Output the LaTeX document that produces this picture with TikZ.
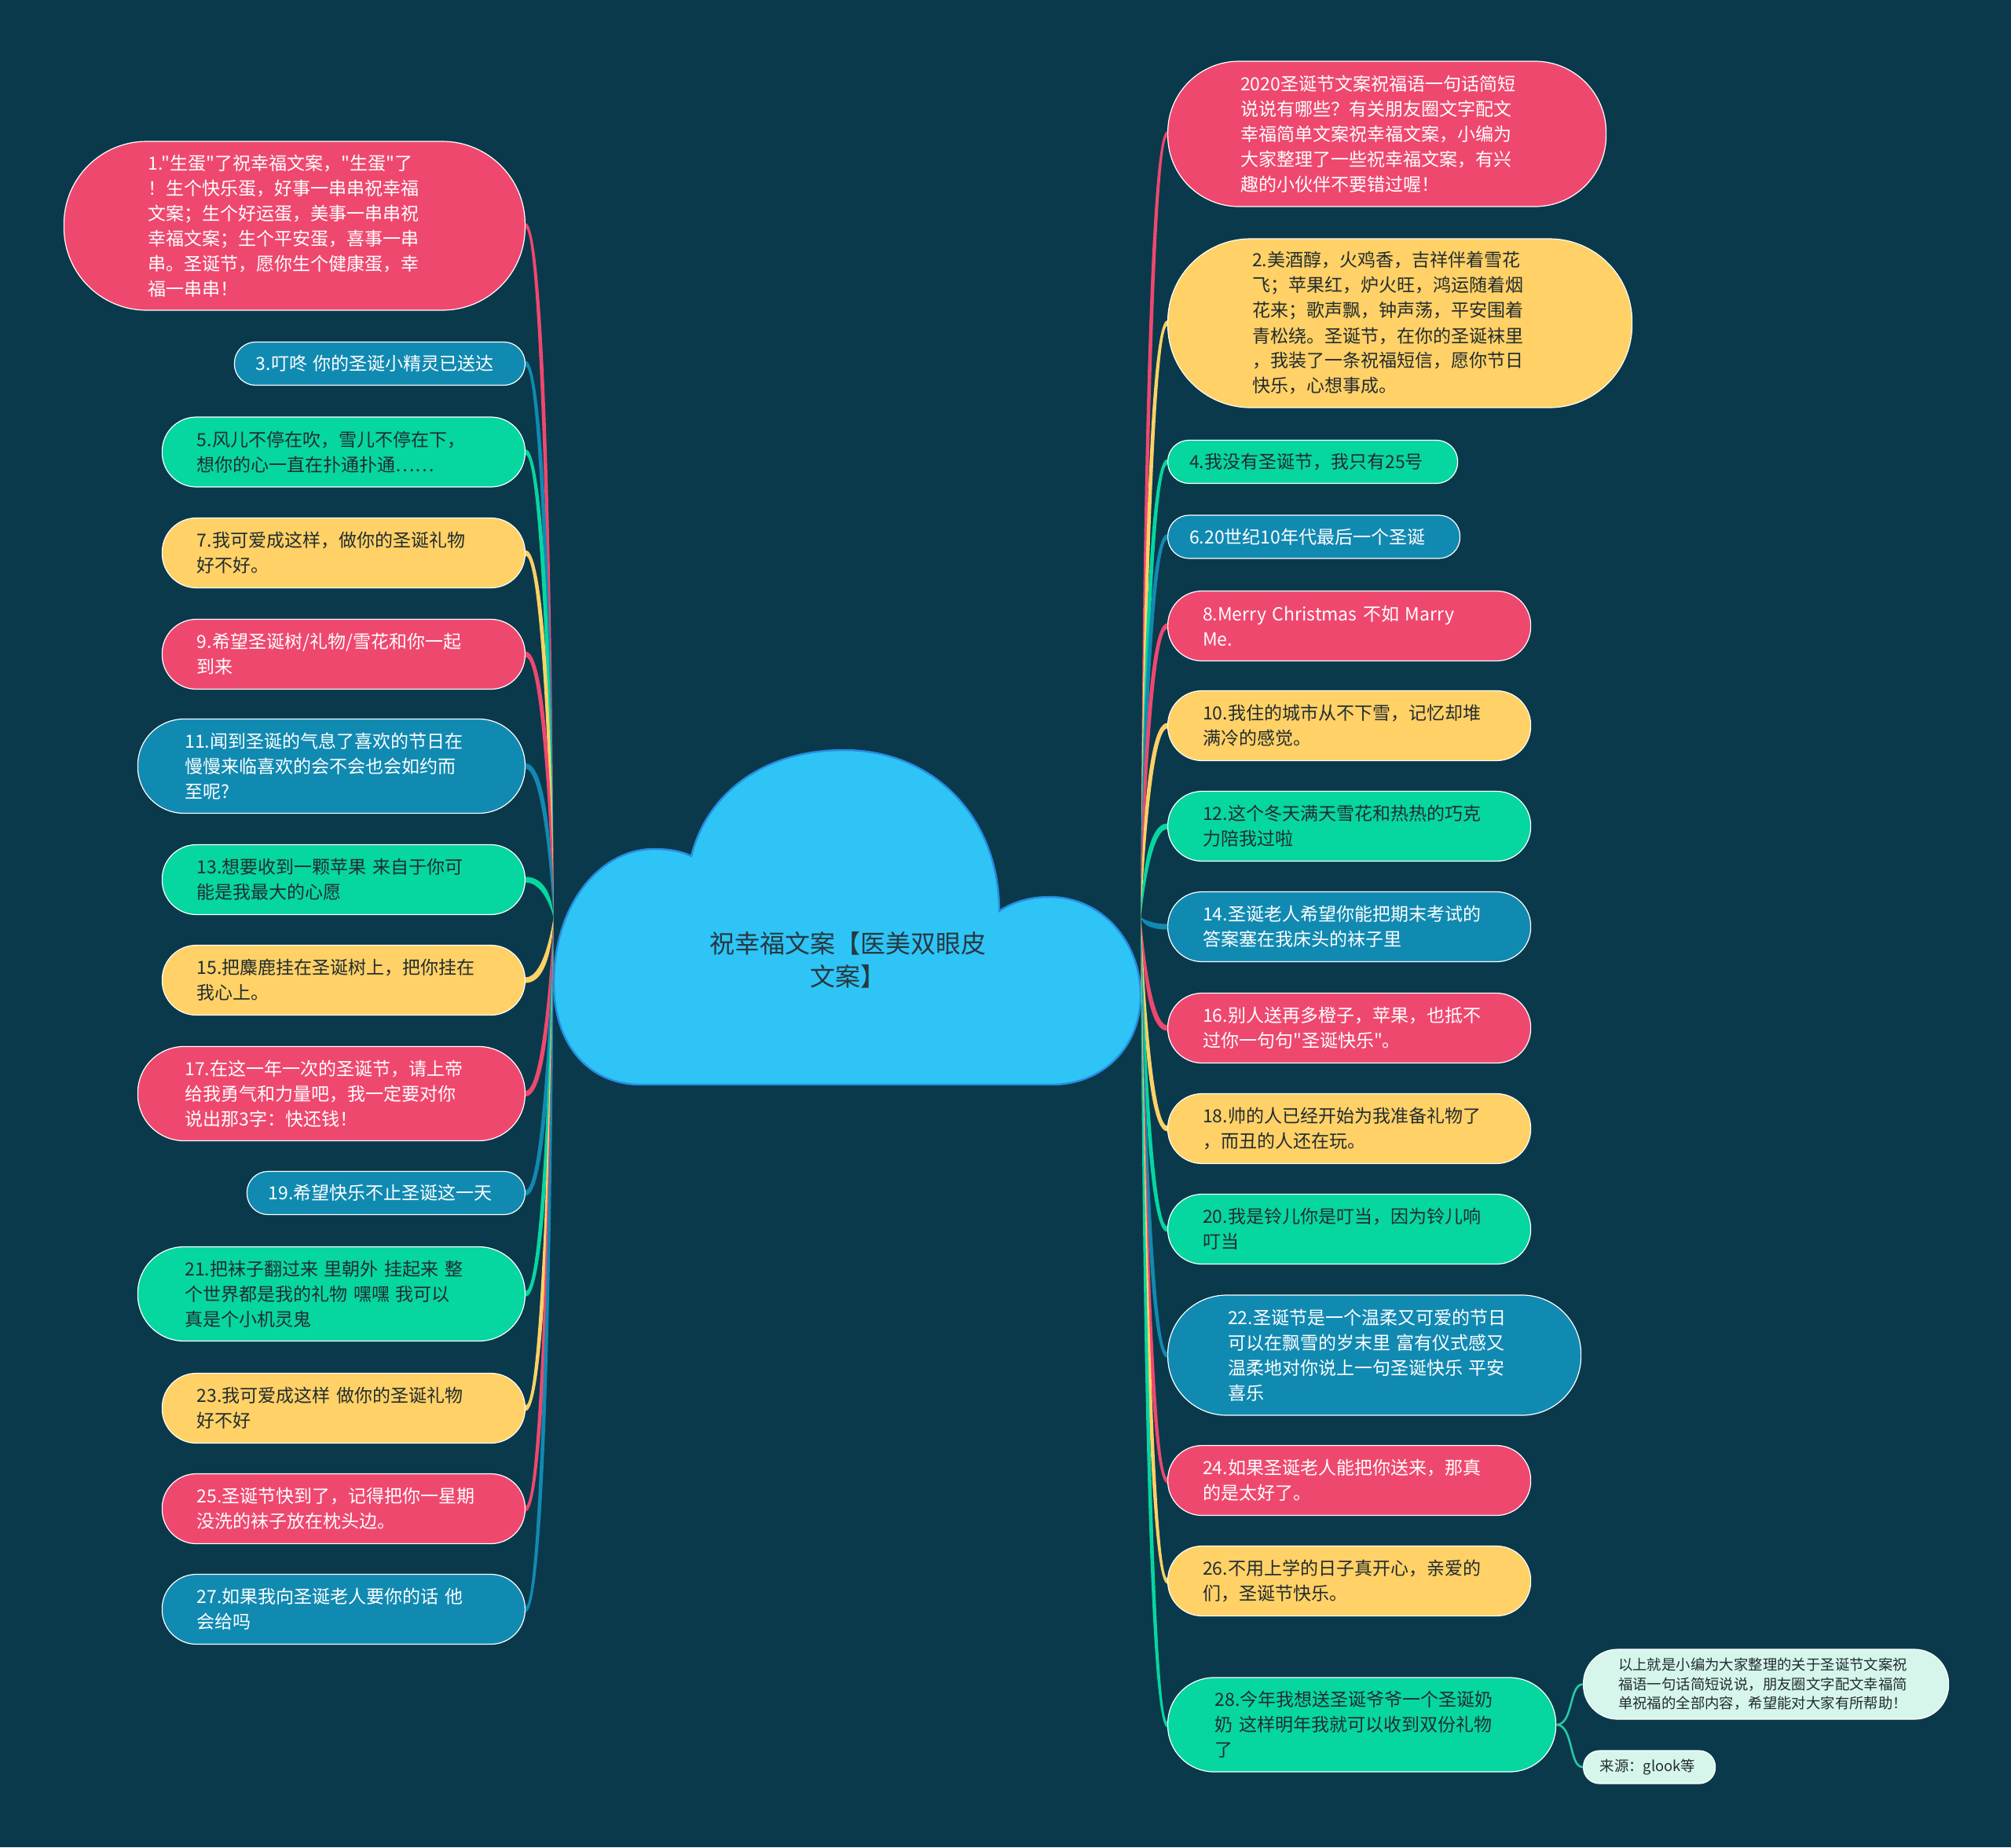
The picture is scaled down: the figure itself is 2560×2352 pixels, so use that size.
\documentclass[tikz,border=0pt]{standalone}
\usepackage{fontspec}
\newfontfamily\cjk{Noto Sans CJK SC}
\usetikzlibrary{calc}
\definecolor{bgteal}{RGB}{10,57,75}
\definecolor{pinkc}{RGB}{239,72,111}
\definecolor{yellowc}{RGB}{255,209,102}
\definecolor{greenc}{RGB}{6,214,160}
\definecolor{bluec}{RGB}{17,138,178}
\definecolor{mintc}{RGB}{214,246,236}
\definecolor{sprigc}{RGB}{40,200,165}
\definecolor{cloudc}{RGB}{46,196,246}
\definecolor{cloudline}{RGB}{38,140,226}
\definecolor{inkc}{RGB}{34,44,48}
\definecolor{titlec}{RGB}{38,56,64}

% tapered branch: colour, start anchor, hub, pull of first control, spread
\newcommand\twig[5]{%
  \fill[#1] ($(#2)+(0,-3.5)$) .. controls ($(#2)+(#4+#5,-3.5)$) and (#3) .. (#3)
    .. controls (#3) and ($(#2)+(#4-#5,3.5)$) .. ($(#2)+(0,3.5)$) -- cycle;}

\begin{document}
\begin{tikzpicture}[
    x=0.5pt, y=-0.5pt,
    every node/.style={font=\cjk\fontsize{11.5}{16}\selectfont},
    bubble/.style={draw=white, line width=0.6pt, align=left, inner ysep=0pt},
    bub/.code 2 args={%
      \pgfmathsetmacro\bubw{#1*0.5}%
      \pgfmathsetmacro\bubh{#2*0.5}%
      \pgfmathsetmacro\bubt{(#1-#2)*0.5}%
      \pgfmathsetmacro\bubr{#2*0.245}%
      \pgfmathsetmacro\bubp{#2*0.25}%
      \edef\bubkeys{minimum width=\bubw pt, minimum height=\bubh pt,
        text width=\bubt pt, inner xsep=\bubp pt, rounded corners=\bubr pt}%
      \expandafter\pgfkeysalso\expandafter{\bubkeys}},
    pinkbox/.style={bubble, fill=pinkc, text=white},
    yellowbox/.style={bubble, fill=yellowc, text=inkc},
    greenbox/.style={bubble, fill=greenc, text=inkc},
    bluebox/.style={bubble, fill=bluec, text=white},
    mintbox/.style={bubble, fill=mintc, text=inkc, font=\cjk\fontsize{9.2}{12.2}\selectfont},
    sprig/.style={draw=sprigc, line width=1.3pt}
]

\fill[bgteal] (0,0) rectangle (2560,2352);

% central cloud
\filldraw[fill=cloudc, draw=cloudline, line width=1.2pt]
  (816,1381) .. controls (745,1381) and (705,1325) .. (705,1252)
  .. controls (705,1150) and (765,1081) .. (832,1081)
  .. controls (852,1081) and (868,1084) .. (880,1090)
  .. controls (900,1010) and (972,955) .. (1074,955)
  .. controls (1190,955) and (1272,1042) .. (1272,1160)
  .. controls (1290,1148) and (1312,1142) .. (1336,1142)
  .. controls (1402,1142) and (1452,1198) .. (1452,1268)
  .. controls (1452,1332) and (1405,1381) .. (1339,1381)
  -- cycle;
\node (root) [minimum width=373.5pt, minimum height=213pt, inner sep=0pt] at (1078.5,1168) {};
\node (title) [font=\cjk\fontsize{16}{21}\selectfont, text=titlec, align=center] at (1079,1222)
  {祝幸福文案【医美双眼皮\\文案】};

% left column
\node (l1) [pinkbox, bub={587}{215}, anchor=east] at (669,287.5)
  {1."生蛋"了祝幸福文案，"生蛋"了\\！生个快乐蛋，好事一串串祝幸福\\文案；生个好运蛋，美事一串串祝\\幸福文案；生个平安蛋，喜事一串\\串。圣诞节，愿你生个健康蛋，幸\\福一串串！};
\node (l3) [bluebox, bub={370}{55}, anchor=east] at (669,463) {3.叮咚 你的圣诞小精灵已送达};
\node (l5) [greenbox, bub={462}{89}, anchor=east] at (669,575.5)
  {5.风儿不停在吹，雪儿不停在下，\\想你的心一直在扑通扑通……};
\node (l7) [yellowbox, bub={462}{89}, anchor=east] at (669,704)
  {7.我可爱成这样，做你的圣诞礼物\\好不好。};
\node (l9) [pinkbox, bub={462}{89}, anchor=east] at (669,833)
  {9.希望圣诞树/礼物/雪花和你一起\\到来};
\node (l11) [bluebox, bub={493}{120}, anchor=east] at (669,975.5)
  {11.闻到圣诞的气息了喜欢的节日在\\慢慢来临喜欢的会不会也会如约而\\至呢?};
\node (l13) [greenbox, bub={462}{89}, anchor=east] at (669,1120)
  {13.想要收到一颗苹果 来自于你可\\能是我最大的心愿};
\node (l15) [yellowbox, bub={462}{89}, anchor=east] at (669,1248)
  {15.把麋鹿挂在圣诞树上，把你挂在\\我心上。};
\node (l17) [pinkbox, bub={493}{120}, anchor=east] at (669,1392.5)
  {17.在这一年一次的圣诞节，请上帝\\给我勇气和力量吧，我一定要对你\\说出那3字：快还钱！};
\node (l19) [bluebox, bub={354}{55}, anchor=east] at (669,1519) {19.希望快乐不止圣诞这一天};
\node (l21) [greenbox, bub={493}{120}, anchor=east] at (669,1647.5)
  {21.把袜子翻过来 里朝外 挂起来 整\\个世界都是我的礼物 嘿嘿 我可以\\真是个小机灵鬼};
\node (l23) [yellowbox, bub={462}{89}, anchor=east] at (669,1793)
  {23.我可爱成这样 做你的圣诞礼物\\好不好};
\node (l25) [pinkbox, bub={462}{89}, anchor=east] at (669,1921)
  {25.圣诞节快到了，记得把你一星期\\没洗的袜子放在枕头边。};
\node (l27) [bluebox, bub={462}{89}, anchor=east] at (669,2049)
  {27.如果我向圣诞老人要你的话 他\\会给吗};

% right column
\node (r0) [pinkbox, bub={558}{185}, anchor=west] at (1486,170.5)
  {2020圣诞节文案祝福语一句话简短\\说说有哪些？有关朋友圈文字配文\\幸福简单文案祝幸福文案，小编为\\大家整理了一些祝幸福文案，有兴\\趣的小伙伴不要错过喔！};
\node (r2) [yellowbox, bub={591}{215}, anchor=west] at (1486,411.5)
  {2.美酒醇，火鸡香，吉祥伴着雪花\\飞；苹果红，炉火旺，鸿运随着烟\\花来；歌声飘，钟声荡，平安围着\\青松绕。圣诞节，在你的圣诞袜里\\，我装了一条祝福短信，愿你节日\\快乐，心想事成。};
\node (r4) [greenbox, bub={369}{55}, anchor=west] at (1486,588) {4.我没有圣诞节，我只有25号};
\node (r6) [bluebox, bub={372}{55}, anchor=west] at (1486,683.5) {6.20世纪10年代最后一个圣诞};
\node (r8) [pinkbox, bub={462}{89}, anchor=west] at (1486,797)
  {8.Merry Christmas 不如 Marry\\Me.};
\node (r10) [yellowbox, bub={462}{89}, anchor=west] at (1486,924)
  {10.我住的城市从不下雪，记忆却堆\\满冷的感觉。};
\node (r12) [greenbox, bub={462}{89}, anchor=west] at (1486,1052)
  {12.这个冬天满天雪花和热热的巧克\\力陪我过啦};
\node (r14) [bluebox, bub={462}{89}, anchor=west] at (1486,1180)
  {14.圣诞老人希望你能把期末考试的\\答案塞在我床头的袜子里};
\node (r16) [pinkbox, bub={462}{89}, anchor=west] at (1486,1309)
  {16.别人送再多橙子，苹果，也抵不\\过你一句句"圣诞快乐"。};
\node (r18) [yellowbox, bub={462}{89}, anchor=west] at (1486,1437)
  {18.帅的人已经开始为我准备礼物了\\，而丑的人还在玩。};
\node (r20) [greenbox, bub={462}{89}, anchor=west] at (1486,1565)
  {20.我是铃儿你是叮当，因为铃儿响\\叮当};
\node (r22) [bluebox, bub={526}{153}, anchor=west] at (1486,1725.5)
  {22.圣诞节是一个温柔又可爱的节日\\可以在飘雪的岁末里 富有仪式感又\\温柔地对你说上一句圣诞快乐 平安\\喜乐};
\node (r24) [pinkbox, bub={462}{89}, anchor=west] at (1486,1885)
  {24.如果圣诞老人能把你送来，那真\\的是太好了。};
\node (r26) [yellowbox, bub={462}{89}, anchor=west] at (1486,2013)
  {26.不用上学的日子真开心，亲爱的\\们，圣诞节快乐。};
\node (r28) [greenbox, bub={494}{120}, anchor=west] at (1486,2196)
  {28.今年我想送圣诞爷爷一个圣诞奶\\奶 这样明年我就可以收到双份礼物\\了};
\node (s1) [mintbox, bub={465}{89}, anchor=west] at (2015,2144.5)
  {以上就是小编为大家整理的关于圣诞节文案祝\\福语一句话简短说说，朋友圈文字配文幸福简\\单祝福的全部内容，希望能对大家有所帮助！};
\node (s2) [mintbox, bub={168}{42}, anchor=west] at (2015,2250) {来源：glook等};

% branches
\foreach \n/\c/\s in {l1/pinkc/5, l3/bluec/5, l5/greenc/5, l7/yellowc/5, l9/pinkc/5,
    l11/bluec/5, l13/greenc/5, l15/yellowc/-5, l17/pinkc/-5, l19/bluec/-5,
    l21/greenc/-5, l23/yellowc/-5, l25/pinkc/-5, l27/bluec/-5}
  \twig{\c}{\n.east}{root.west}{30}{\s};
\foreach \n/\c/\s in {r0/pinkc/-5, r2/yellowc/-5, r4/greenc/-5, r6/bluec/-5, r8/pinkc/-5,
    r10/yellowc/-5, r12/greenc/-5, r14/bluec/5, r16/pinkc/5, r18/yellowc/5,
    r20/greenc/5, r22/bluec/5, r24/pinkc/5, r26/yellowc/5, r28/greenc/5}
  \twig{\c}{\n.west}{root.east}{-28}{\s};
\draw [sprig] (r28.east) .. controls +(22,0) and +(-18,0) .. (s1.west);
\draw [sprig] (r28.east) .. controls +(22,0) and +(-18,0) .. (s2.west);

\end{tikzpicture}
\end{document}
